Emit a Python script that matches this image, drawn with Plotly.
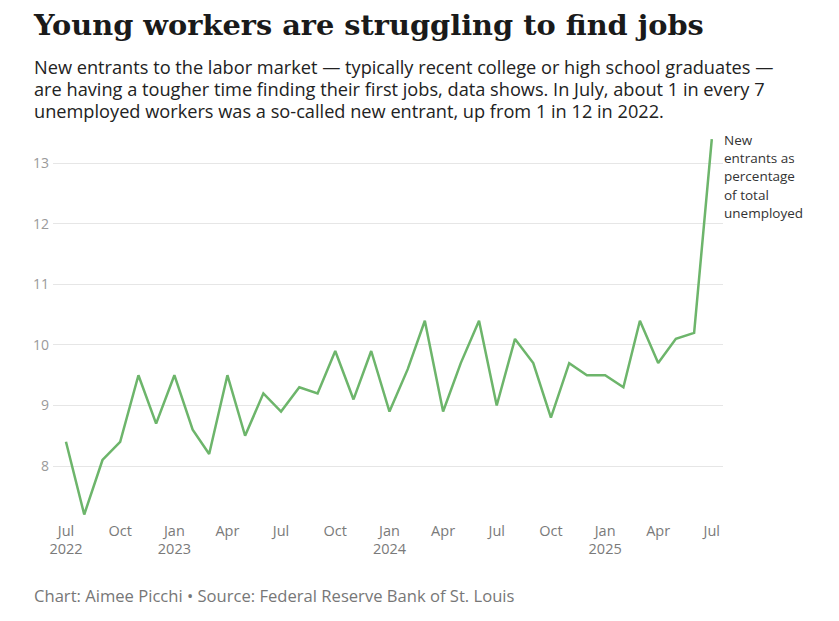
import plotly.graph_objects as go

months = [
    "2022-07", "2022-08", "2022-09", "2022-10", "2022-11", "2022-12",
    "2023-01", "2023-02", "2023-03", "2023-04", "2023-05", "2023-06",
    "2023-07", "2023-08", "2023-09", "2023-10", "2023-11", "2023-12",
    "2024-01", "2024-02", "2024-03", "2024-04", "2024-05", "2024-06",
    "2024-07", "2024-08", "2024-09", "2024-10", "2024-11", "2024-12",
    "2025-01", "2025-02", "2025-03", "2025-04", "2025-05", "2025-06",
    "2025-07",
]
new_entrant_share = [
    8.4, 7.2, 8.1, 8.4, 9.5, 8.7,
    9.5, 8.6, 8.2, 9.5, 8.5, 9.2,
    8.9, 9.3, 9.2, 9.9, 9.1, 9.9,
    8.9, 9.6, 10.4, 8.9, 9.7, 10.4,
    9.0, 10.1, 9.7, 8.8, 9.7, 9.5,
    9.5, 9.3, 10.4, 9.7, 10.1, 10.2,
    13.4,
]

tick_dates = [
    "2022-07-01", "2022-10-01", "2023-01-01", "2023-04-01", "2023-07-01",
    "2023-10-01", "2024-01-01", "2024-04-01", "2024-07-01", "2024-10-01",
    "2025-01-01", "2025-04-01", "2025-07-01",
]
tick_labels = [
    "Jul<br>2022", "Oct", "Jan<br>2023", "Apr", "Jul", "Oct", "Jan<br>2024",
    "Apr", "Jul", "Oct", "Jan<br>2025", "Apr", "Jul",
]
y_ticks = [8, 9, 10, 11, 12, 13]

title = "Young workers are struggling to find jobs"
subtitle_lines = [
    "New entrants to the labor market — typically recent college or high school graduates —",
    "are having a tougher time finding their first jobs, data shows. In July, about 1 in every 7",
    "unemployed workers was a so-called new entrant, up from 1 in 12 in 2022.",
]
series_label_lines = ["New", "entrants as", "percentage", "of total", "unemployed"]
footer = "Chart: Aimee Picchi • Source: Federal Reserve Bank of St. Louis"

W, H = 839, 621
OFFSET = 8  # page body margin, everything below is in screen pixels
PLOT_TOP, PLOT_BOTTOM = 135, 518
PLOT_LEFT, PLOT_RIGHT = 53, 723

sans = "'Open Sans', Lato, sans-serif"
serif = "'DejaVu Serif', serif"


def py(screen_y):
    return (PLOT_BOTTOM - screen_y) / (PLOT_BOTTOM - PLOT_TOP)


def px(screen_x):
    return (screen_x - PLOT_LEFT) / (PLOT_RIGHT - PLOT_LEFT)


def add_text(fig, text, x, baseline, size, color, family=sans, height=None):
    # place a single line so that its baseline sits near the given row
    fig.add_annotation(
        text=text, xref="paper", yref="paper",
        x=px(x), y=py(baseline - 0.33 * size),
        xanchor="left", yanchor="middle", showarrow=False, align="left",
        height=height,
        font=dict(family=family, size=size, color=color),
    )


fig = go.Figure(
    go.Scatter(
        x=[m + "-01" for m in months],
        y=new_entrant_share,
        mode="lines",
        line=dict(color="#6db56b", width=2.5),
        hoverinfo="x+y",
    )
)

fig.update_layout(
    width=W,
    height=H,
    margin=dict(
        l=PLOT_LEFT - OFFSET,
        r=W - (PLOT_RIGHT - OFFSET),
        t=PLOT_TOP - OFFSET,
        b=H - (PLOT_BOTTOM - OFFSET),
    ),
    paper_bgcolor="white",
    plot_bgcolor="white",
    showlegend=False,
    font=dict(family=sans, color="#333"),
)

fig.update_xaxes(
    type="date",
    range=["2022-06-09", "2025-07-20"],
    tickvals=tick_dates,
    ticktext=tick_labels,
    showgrid=False,
    zeroline=False,
    showline=False,
    ticks="",
    ticklabelstandoff=2,
    tickfont=dict(family=sans, size=14.5, color="#7a7a7a"),
)
fig.update_yaxes(
    range=[7.142, 13.467],
    tickvals=y_ticks,
    showgrid=True,
    gridcolor="#e6e6e6",
    gridwidth=1,
    zeroline=False,
    showline=False,
    ticks="",
    ticklabelstandoff=3,
    tickfont=dict(family=sans, size=14, color="#9a9a9a"),
)

add_text(fig, f"<b>{title}</b>", 31, 35, 28.8, "#1a1a1a", family=serif)

# subtitle as one block: line pitch follows the base size (1.3em),
# glyphs are drawn a bit larger through the spans
sub_size = 18.2
sub_pitch = 21.85
sub_html = "<br>".join(
    f"<span style='font-size:{sub_size}px'>{line}</span>" for line in subtitle_lines
)
fig.add_annotation(
    text=sub_html, xref="paper", yref="paper",
    x=px(32), y=py(52.6), xanchor="left", yanchor="top",
    showarrow=False, align="left",
    font=dict(family=sans, size=sub_pitch / 1.3, color="#222"),
)

for i, line in enumerate(series_label_lines):
    add_text(fig, line, 722, 144 + i * 18.2, 13.5, "#333", height=17)
add_text(fig, footer, 32, 600.7, 16.6, "#777")

fig.write_html("out.html")
